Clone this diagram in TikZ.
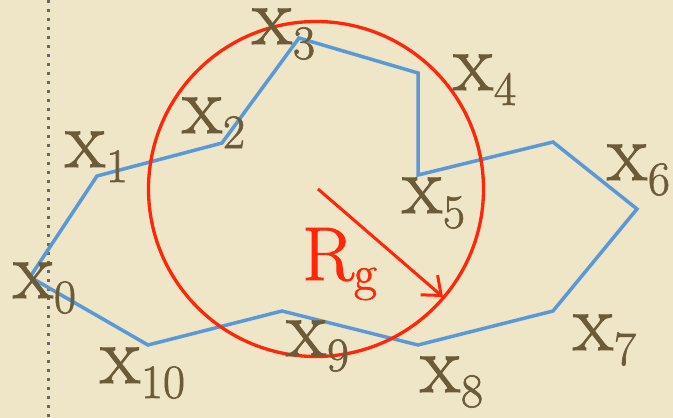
\documentclass[tikz,border=0pt]{standalone}
\usepackage{fontspec}
\newfontfamily\labfont{Latin Modern Roman}[FakeBold=1.3]
\usetikzlibrary{arrows.meta}
\definecolor{bg}{RGB}{239,229,199}
\definecolor{labc}{RGB}{107,91,57}
\definecolor{polyc}{RGB}{91,152,213}
\definecolor{redc}{RGB}{255,38,10}
\newcommand{\xlab}[1]{{\fontsize{82}{82}\selectfont x}\kern1pt\raisebox{-15pt}{\fontsize{48}{48}\selectfont #1}}
\tikzset{
  lab/.style={text=labc, inner sep=0pt, anchor=base west, font=\labfont},
  poly/.style={draw=polyc, line width=3.5pt, line join=miter},
  dotline/.style={draw=black!60, line width=3pt, dash pattern=on 3pt off 6pt},
  circ/.style={draw=redc, line width=3.3pt},
  rarrow/.style={draw=redc, line width=3pt, -{Straight Barb[length=16pt,width=26pt,line width=3pt]}}
}
\begin{document}
\begin{tikzpicture}[x=1pt,y=-1pt]
\fill[bg] (0,0) rectangle (673,418);
\useasboundingbox (0,0) rectangle (673,418);
\coordinate (dt) at (48,0);
\coordinate (db) at (48,418);
\draw[dotline] (dt) -- (db);
\coordinate (p0) at (30,277);
\coordinate (p1) at (97,176);
\coordinate (p2) at (222,143);
\coordinate (p3) at (299,38);
\coordinate (p4) at (418,73);
\coordinate (p5) at (418,175);
\coordinate (q6) at (553,142);
\coordinate (p6) at (637,209);
\coordinate (p7) at (553,311);
\coordinate (p8) at (418,345);
\coordinate (p9) at (282,311);
\coordinate (p10) at (148,345);
\draw[poly] (p0) -- (p1) -- (p2) -- (p3) -- (p4) -- (p5) -- (q6) -- (p6) -- (p7) -- (p8) -- (p9) -- (p10) -- cycle;
\node[circ, circle, minimum size=335pt, inner sep=0pt] (cc) at (316,189) {};
\coordinate (ao) at (318,189);
\coordinate (ae) at (443,297);
\draw[rarrow] (ao) -- (ae);
\node[lab] (l0) at (13,298) {\xlab{0}};
\node[lab] (l1) at (65,167) {\xlab{1}};
\node[lab] (l2) at (182,133) {\xlab{2}};
\node[lab] (l3) at (252,44) {\xlab{3}};
\node[lab] (l4) at (453,90) {\xlab{4}};
\node[lab] (l5) at (402,213) {\xlab{5}};
\node[lab] (l6) at (607,180) {\xlab{6}};
\node[lab] (l7) at (573,350) {\xlab{7}};
\node[lab] (l8) at (420,392) {\xlab{8}};
\node[lab] (l9) at (286,356) {\xlab{9}};
\node[lab] (l10) at (100,383) {\xlab{10}};
\node[lab, text=redc] (rg) at (302,280) {{\fontsize{76}{76}\selectfont R}\raisebox{-10pt}{\fontsize{50}{50}\selectfont g}};
\end{tikzpicture}
\end{document}
